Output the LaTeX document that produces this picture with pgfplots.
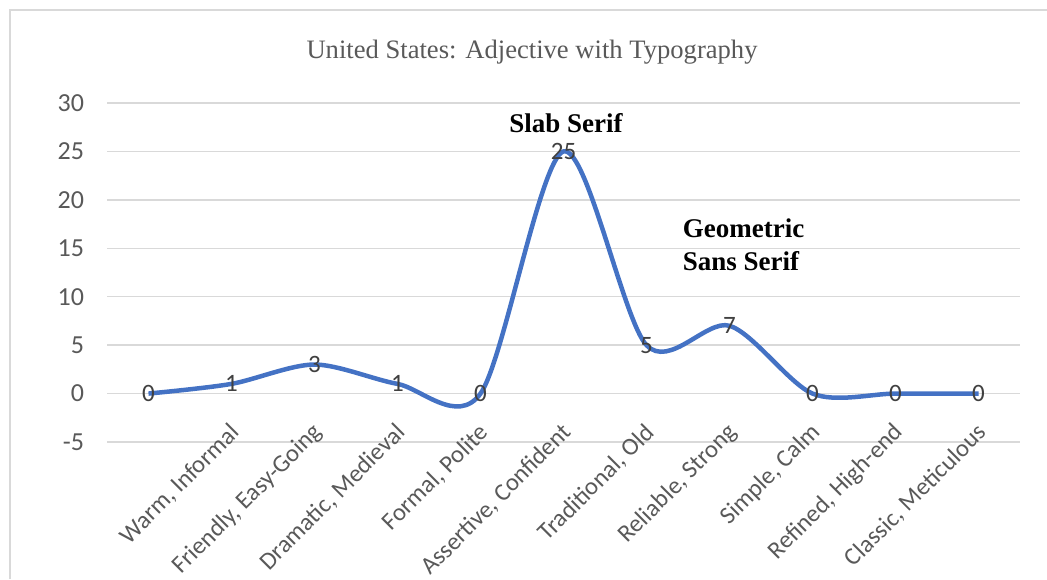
\documentclass[border=0pt]{standalone}
\usepackage{fontspec}
\setmainfont{Carlito}
\newfontfamily\tnr{Liberation Serif}
\usepackage{pgfplots}
\pgfplotsset{compat=1.18}
\definecolor{gridc}{HTML}{D9D9D9}
\definecolor{ticktext}{HTML}{595959}
\definecolor{labtext}{HTML}{404040}
\definecolor{linec}{HTML}{4472C4}
\begin{document}
\begin{tikzpicture}
\useasboundingbox (0,0) rectangle (523.5pt,289.5pt);
\draw[gridc, line width=0.75pt] (5pt,0) -- (5pt,284.5pt) -- (523.5pt,284.5pt);
\node[font=\tnr\fontsize{13.3}{16}\selectfont, text=ticktext] at (266pt,263.5pt) {United States: Adjective with Typography};
\begin{axis}[
 at={(53.5pt,68.5pt)}, anchor=south west,
 scale only axis, width=456.5pt, height=169.5pt,
 xmin=-0.5, xmax=10.5, ymin=-5, ymax=30,
 ytick={-5,0,...,30},
 xtick={0,...,10},
 xticklabels={{},{Warm, Informal},{Friendly, Easy-Going},{Dramatic, Medieval},{Formal, Polite},{Assertive, Confident},{Traditional, Old},{Reliable, Strong},{Simple, Calm},{Refined, High-end},{Classic, Meticulous}},
 axis line style={draw=none},
 major tick length=0pt,
 ymajorgrids, grid style={gridc, line width=0.75pt},
 tick label style={font=\fontsize{12.3}{14}\selectfont, text=ticktext},
 /pgf/number format/assume math mode=true,
 yticklabel style={xshift=-8pt, font=\fontsize{13}{15}\selectfont},
 xticklabel style={xshift=4.5pt, yshift=9pt, rotate=45, anchor=east},
 clip=false,
]
\addplot[linec, line width=2.25pt, smooth, tension=0.5, nodes near coords, every node near coord/.append style={anchor=center, font=\fontsize{12.5}{14}\selectfont, text=labtext}] coordinates {(0,0)(1,1)(2,3)(3,1)(4,0)(5,25)(6,5)(7,7)(8,0)(9,0)(10,0)};
\node[font=\tnr\bfseries\fontsize{13.5}{16.5}\selectfont] at (axis cs:5.03,27.9) {Slab Serif};
\node[font=\tnr\bfseries\fontsize{13.5}{16.5}\selectfont, align=left] at (axis cs:7.17,15.4) {Geometric\\Sans Serif};
\end{axis}
\end{tikzpicture}
\end{document}
